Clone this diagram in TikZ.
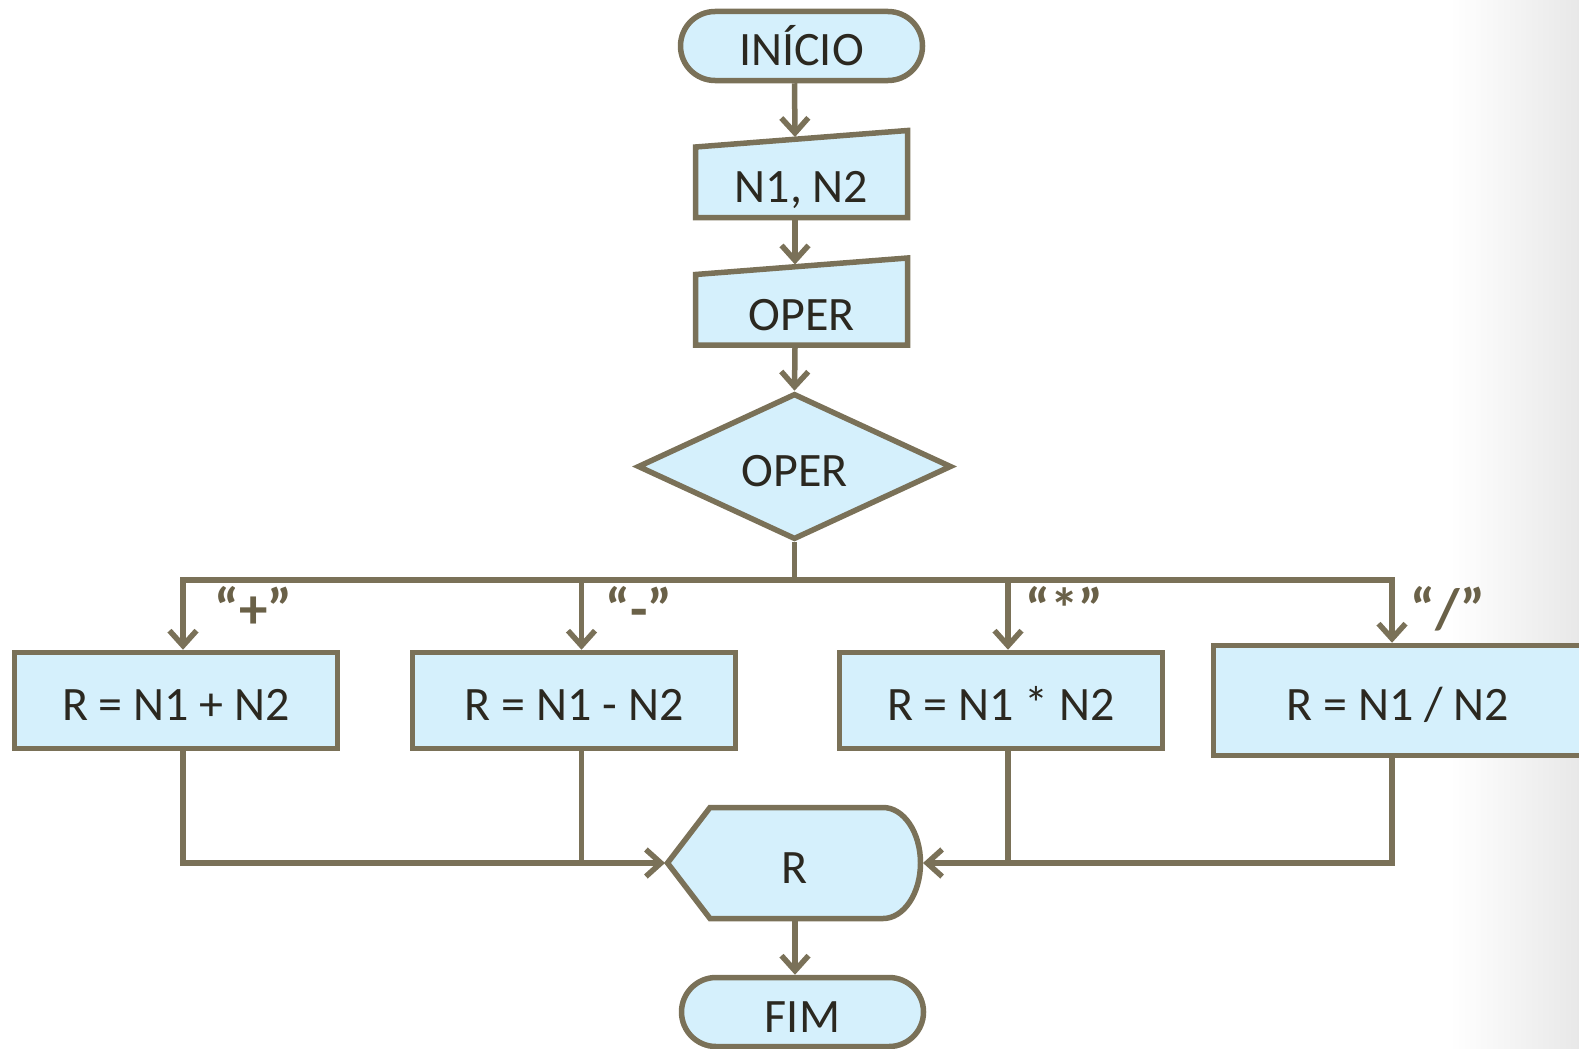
\documentclass[tikz,border=0pt]{standalone}
\usepackage{fontspec}
\setmainfont{Carlito}
\usetikzlibrary{arrows.meta,shapes.geometric,calc}
\definecolor{lnc}{HTML}{7A7158}
\definecolor{flc}{HTML}{D5F0FC}
\definecolor{txc}{HTML}{2B2820}
\definecolor{lbc}{HTML}{6A6148}
\begin{document}
\begin{tikzpicture}[x=1pt,y=-1pt,
  every node/.style={text=txc, font=\fontsize{48}{56}\selectfont},
  shp/.style={draw=lnc, fill=flc, line width=5.5pt, line join=miter},
  term/.style={shp, rectangle, rounded corners=34.5pt, minimum width=242pt, minimum height=69pt, inner sep=0pt},
  box/.style={shp, rectangle, inner sep=0pt, minimum height=96pt},
  arr/.style={draw=lnc, line width=5.5pt, -{Straight Barb[length=15pt,width=27pt]}},
  lnk/.style={draw=lnc, line width=5.5pt},
  lab/.style={font=\fontsize{57}{62}\selectfont\bfseries, text=lbc, anchor=base, inner sep=0pt},
  txt/.style={text height=40pt, text depth=0pt}
]
\useasboundingbox (0,0) rectangle (1579,1049);
\clip (0,0) rectangle (1579,1049);
\shade[left color=white, right color=black!9] (1450,0) rectangle (1579,1049);

% start
\node[term, txt] (ini) at (801.5,46) {INÍCIO};

% inputs
\draw[shp] (695.5,147) -- (907.5,130.5) -- (907.5,217.5) -- (695.5,217.5) -- cycle;
\node[anchor=base] (t1) at (801.5,202.5) {N1, N2};
\coordinate (in1top) at (795,137);
\coordinate (in1bot) at (795,220);

\draw[shp] (695.5,274.5) -- (907.5,258) -- (907.5,345) -- (695.5,345) -- cycle;
\node[anchor=base] (t2) at (801.5,330.5) {OPER};
\coordinate (in2top) at (795,264.5);
\coordinate (in2bot) at (795,347.5);

% decision
\node[shp, diamond, minimum width=314pt, minimum height=136pt, inner sep=0pt, txt] (dia) at (794.5,466.5) {OPER};

% process boxes
\node[box, txt, minimum width=323pt] (b1) at (176,700.5) {R = N1 + N2};
\node[box, txt, minimum width=323pt] (b2) at (574,700.5) {R = N1 - N2};
\node[box, txt, minimum width=323pt] (b3) at (1001,700.5) {R = N1 * N2};
\node[box, txt, minimum width=369pt, minimum height=110pt] (b4) at (1398,700.5) {R = N1 / N2};

% display
\draw[shp] (667.5,863) -- (710,807.5) -- (883,807.5)
  .. controls (903.7,807.5) and (920.5,832.35) .. (920.5,863)
  .. controls (920.5,893.65) and (903.7,918.5) .. (883,918.5)
  -- (710,918.5) -- cycle;
\node[anchor=base] (rt) at (795,883.5) {R};
\coordinate (rl) at (665,863);
\coordinate (rr) at (923,863);
\coordinate (rbot) at (795,921);

% end
\node[term, txt] (fim) at (802.5,1012) {FIM};

% connectors
\draw[arr] (ini.south -| dia.north) -- (in1top);
\draw[arr] (in1bot) -- (in2top);
\draw[arr] (in2bot) -- (dia.north);

\coordinate (bus) at (794.5,580);
\coordinate (j1) at (183,580);
\coordinate (j2) at (581.5,580);
\coordinate (j3) at (1008,580);
\coordinate (j4) at (1392,580);
\draw[lnk] (dia.south) -- (bus);
\draw[arr] (bus) -- (j1) -- (j1 |- b1.north);
\draw[arr] (bus) -- (j4) -- (j4 |- b4.north);
\draw[arr] (j2) -- (j2 |- b2.north);
\draw[arr] (j3) -- (j3 |- b3.north);

\draw[arr] (j1 |- b1.south) -- (j1 |- rl) -- (rl);
\draw[lnk] (j2 |- b2.south) -- (j2 |- rl);
\draw[arr] (j4 |- b4.south) -- (j4 |- rr) -- (rr);
\draw[lnk] (j3 |- b3.south) -- (j3 |- rr);
\draw[arr] (rbot) -- (rbot |- fim.north);

% labels
\node[lab] (l1) at (253.5,628) {“+”};
\node[lab] (l2) at (639,628) {“-”};
\node[lab] (l3) at (1064.5,628) {“*”};
\node[lab] (l4) at (1448,628) {“/”};
\end{tikzpicture}
\end{document}
